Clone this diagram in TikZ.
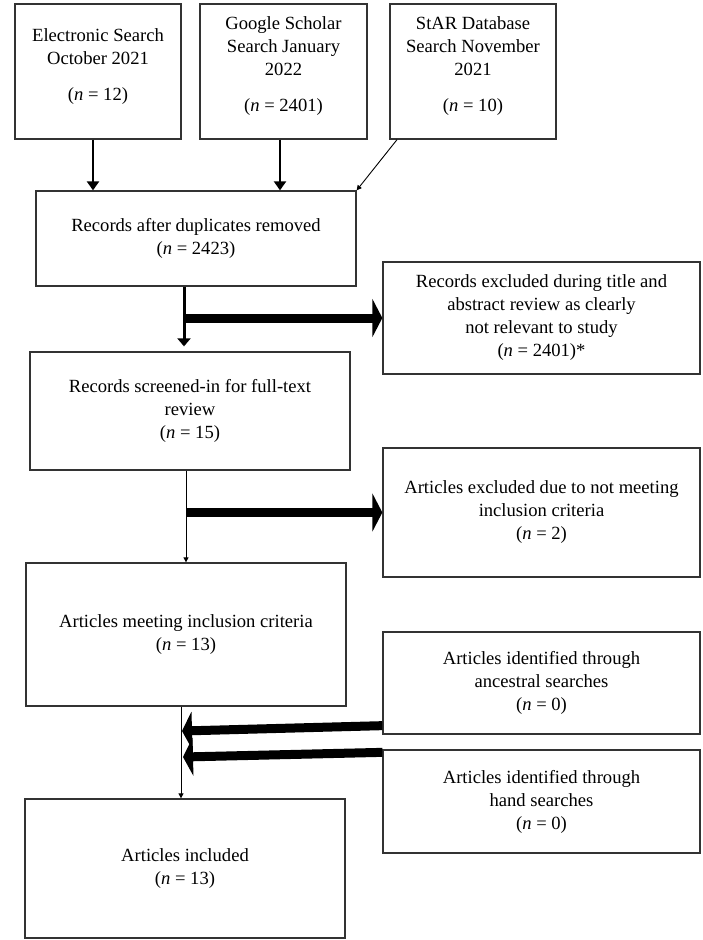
\documentclass[tikz,border=0pt]{standalone}
\usepackage{fontspec}
\setmainfont{Liberation Serif}
\usetikzlibrary{arrows.meta}
\begin{document}
\begin{tikzpicture}[x=1pt,y=-1pt,
  box/.style={draw=black!80, line width=1.3pt, align=center, inner sep=0pt, font=\fontsize{18.6}{23}\selectfont},
  thickarrow/.style={line width=9pt, -{Triangle[width=38pt,length=10pt]}},
  medarrow/.style={line width=2.2pt, -{Triangle[width=12pt,length=9pt]}},
  thinarrow/.style={line width=0.9pt, -{Triangle[width=5pt,length=5pt]}}]
\useasboundingbox (0,0) rectangle (702,940);

% top sources
\node[box, minimum width=166pt, minimum height=135pt] (b1) at (98,71.5)
  {\begin{tabular}{@{}c@{}}Electronic Search\\October 2021\\[13pt](\textit{n} = 12)\\[11pt]\end{tabular}};
\node[box, minimum width=167pt, minimum height=135pt] (b2) at (283.5,71.5)
  {\begin{tabular}{@{}c@{}}Google Scholar\\Search January\\2022\\[13pt](\textit{n} = 2401)\\[11pt]\end{tabular}};
\node[box, minimum width=166pt, minimum height=135pt] (b3) at (473,71.5)
  {\begin{tabular}{@{}c@{}}StAR Database\\Search November\\2021\\[13pt](\textit{n} = 10)\\[11pt]\end{tabular}};

% main column
\node[box, minimum width=320pt, minimum height=95pt] (rad) at (196,238.5)
  {Records after duplicates removed\\(\textit{n} = 2423)};
\node[box, minimum width=320pt, minimum height=118pt] (rs) at (190,411)
  {Records screened-in for full-text\\review\\(\textit{n} = 15)};
\node[box, minimum width=320pt, minimum height=143pt] (am) at (186,634.5)
  {Articles meeting inclusion criteria\\(\textit{n} = 13)};
\node[box, minimum width=320pt, minimum height=139pt] (ai) at (185,868.5)
  {Articles included\\(\textit{n} = 13)};

% right column
\node[box, minimum width=317pt, minimum height=112pt] (rex) at (541.5,318)
  {Records excluded during title and\\abstract review as clearly\\not relevant to study\\(\textit{n} = 2401)*};
\node[box, minimum width=317pt, minimum height=129pt] (aex) at (541.5,512.5)
  {Articles excluded due to not meeting\\inclusion criteria\\(\textit{n} = 2)};
\node[box, minimum width=317pt, minimum height=102pt] (anc) at (541.5,683)
  {Articles identified through\\ancestral searches\\(\textit{n} = 0)};
\node[box, minimum width=317pt, minimum height=103pt] (hand) at (541.5,801.5)
  {Articles identified through\\hand searches\\(\textit{n} = 0)};

% connectors
\draw[medarrow] (93,0 |- b1.south) -- (93,0 |- rad.north);
\draw[medarrow] (280,0 |- b2.south) -- (280,0 |- rad.north);
\draw[thinarrow] (397,0 |- b3.south) -- (rad.north east);

\draw[line width=3pt, -{Triangle[width=13pt,length=8pt]}, shorten >=5pt] (184,0 |- rad.south) -- (184,0 |- rs.north);
\draw[thickarrow] (184,0 |- rex.west) -- (rex.west);

\draw[thinarrow] (am.north |- rs.south) -- (am.north);
\draw[thickarrow] (186,0 |- aex.west) -- (aex.west);

\draw[thinarrow] (181,0 |- am.south) -- (181,0 |- ai.north);
\coordinate (t1) at (182,731);
\coordinate (t2) at (183,757);
\draw[thickarrow] ([yshift=9pt]anc.south west) -- (t1);
\draw[thickarrow] ([yshift=-3pt]hand.north west) -- (t2);
\end{tikzpicture}
\end{document}
